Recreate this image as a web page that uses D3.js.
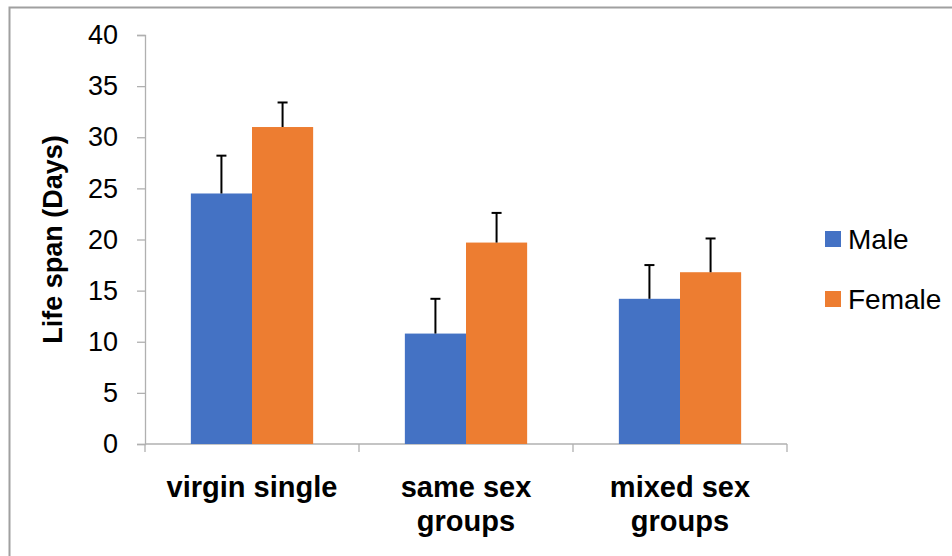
<!DOCTYPE html>
<html lang="en">
  <head>
    <meta charset="utf-8">
    <title>Life span</title>
    <script src="https://d3js.org/d3.v7.min.js"></script>
    <style>
      body { margin: 0; background: #fff; }
      text { font-family: "Liberation Sans", Arial, sans-serif; }
    </style>
  </head>
  <body>
    <script>
      var categories = [["virgin single"], ["same sex", "groups"], ["mixed sex", "groups"]];
      var seriesNames = ["Male", "Female"];
      var colors = ["#4472c4", "#ed7d31"];
      var maleValues = [24.5, 10.8, 14.2];
      var femaleValues = [31.0, 19.7, 16.8];
      var maleErrors = [3.7, 3.4, 3.3];
      var femaleErrors = [2.4, 2.9, 3.3];
      var yTicks = [0, 5, 10, 15, 20, 25, 30, 35, 40];

      var width = 952, height = 556;
      var plot = {left: 145, right: 787, top: 35, bottom: 444};

      var svg = d3.select("body").append("svg")
        .attr("width", width)
        .attr("height", height);

      // outer chart frame
      svg.append("rect")
        .attr("x", 9.5).attr("y", 7.5)
        .attr("width", 960).attr("height", 560)
        .attr("fill", "none")
        .attr("stroke", "#a0a0a0")
        .attr("stroke-width", 2);

      var y = d3.scaleLinear().domain([0, 40]).range([plot.bottom, plot.top]);
      var x0 = d3.scaleBand().domain(d3.range(categories.length))
        .range([plot.left, plot.right]).padding(0);
      // excel gap width 150% -> 0.75 bar on each side
      var x1 = d3.scaleBand().domain(d3.range(seriesNames.length))
        .range([0, x0.bandwidth()]).paddingInner(0).paddingOuter(0.75);

      // y axis
      var yAxis = svg.append("g")
        .attr("transform", "translate(" + plot.left + ",0)")
        .call(d3.axisLeft(y).tickValues(yTicks).tickSize(8).tickPadding(19));
      yAxis.select(".domain").attr("stroke", "#b0b0b0").attr("stroke-width", 1.3);
      yAxis.selectAll(".tick line").attr("stroke", "#b0b0b0").attr("stroke-width", 1.3);
      yAxis.selectAll(".tick text")
        .attr("font-size", 27)
        .attr("font-family", "'Liberation Sans', Arial, sans-serif")
        .attr("fill", "#000");

      // x axis
      var xAxis = svg.append("g")
        .attr("transform", "translate(0," + plot.bottom + ")");
      xAxis.append("line")
        .attr("x1", plot.left).attr("x2", plot.right)
        .attr("stroke", "#b0b0b0").attr("stroke-width", 1.3);
      var xEdges = d3.range(categories.length + 1).map(function(i) {
        return i < categories.length ? x0(i) : x0(i - 1) + x0.bandwidth();
      });
      xAxis.selectAll(".xtick").data(xEdges).enter().append("line")
        .attr("x1", function(d) { return d; })
        .attr("x2", function(d) { return d; })
        .attr("y1", 0).attr("y2", 8)
        .attr("stroke", "#b0b0b0").attr("stroke-width", 1.3);

      var labels = svg.selectAll(".cat").data(categories).enter().append("text")
        .attr("class", "cat")
        .attr("x", function(d, i) { return x0(i) + x0.bandwidth() / 2; })
        .attr("y", 497)
        .attr("text-anchor", "middle")
        .attr("font-size", 29)
        .attr("font-weight", "bold");
      labels.selectAll("tspan").data(function(d) { return d; }).enter().append("tspan")
        .attr("x", function() { return d3.select(this.parentNode).attr("x"); })
        .attr("dy", function(d, i) { return i === 0 ? 0 : 34; })
        .text(function(d) { return d; });

      // bars
      var seriesValues = [maleValues, femaleValues];
      var seriesErrors = [maleErrors, femaleErrors];
      var groups = svg.selectAll(".series").data(seriesNames).enter().append("g")
        .attr("class", "series");

      groups.each(function(name, s) {
        var g = d3.select(this);
        var vals = seriesValues[s].map(function(v, i) { return {i: i, v: v, e: seriesErrors[s][i]}; });
        g.selectAll("rect").data(vals).enter().append("rect")
          .attr("x", function(d) { return x0(d.i) + x1(s); })
          .attr("y", function(d) { return y(d.v); })
          .attr("width", x1.bandwidth())
          .attr("height", function(d) { return y(0) - y(d.v); })
          .attr("fill", colors[s]);
        var eb = g.selectAll(".err").data(vals).enter().append("g").attr("class", "err");
        eb.append("line")
          .attr("x1", function(d) { return x0(d.i) + x1(s) + x1.bandwidth() / 2; })
          .attr("x2", function(d) { return x0(d.i) + x1(s) + x1.bandwidth() / 2; })
          .attr("y1", function(d) { return y(d.v); })
          .attr("y2", function(d) { return y(d.v + d.e); })
          .attr("stroke", "#000").attr("stroke-width", 2);
        eb.append("line")
          .attr("x1", function(d) { return x0(d.i) + x1(s) + x1.bandwidth() / 2 - 5; })
          .attr("x2", function(d) { return x0(d.i) + x1(s) + x1.bandwidth() / 2 + 5; })
          .attr("y1", function(d) { return y(d.v + d.e); })
          .attr("y2", function(d) { return y(d.v + d.e); })
          .attr("stroke", "#000").attr("stroke-width", 2);
      });

      // y axis title
      svg.append("text")
        .attr("transform", "translate(62," + (plot.top + plot.bottom) / 2 + ") rotate(-90)")
        .attr("text-anchor", "middle")
        .attr("font-size", 27)
        .attr("font-weight", "bold")
        .text("Life span (Days)");

      // legend
      var legend = svg.selectAll(".legend").data(seriesNames).enter().append("g")
        .attr("class", "legend")
        .attr("transform", function(d, i) { return "translate(825," + (231 + i * 60) + ")"; });
      legend.append("rect")
        .attr("width", 16).attr("height", 16)
        .attr("fill", function(d, i) { return colors[i]; });
      legend.append("text")
        .attr("x", 23).attr("y", 18)
        .attr("font-size", 28)
        .text(function(d) { return d; });
    </script>
  </body>
</html>
